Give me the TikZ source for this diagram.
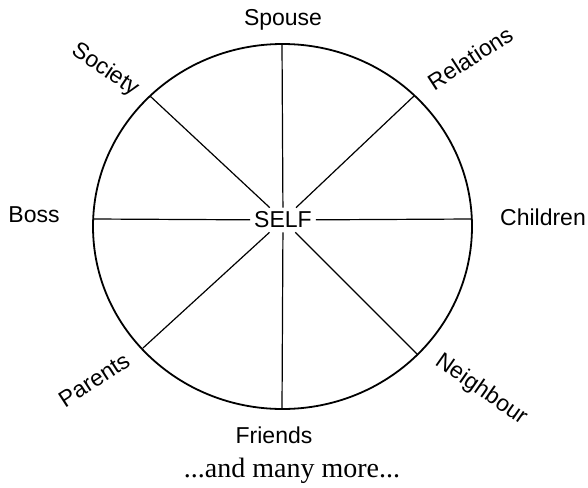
\documentclass[tikz,border=0pt]{standalone}
\usepackage{fontspec}
\setmainfont{Liberation Sans}
\newfontfamily\captionfont{Liberation Serif}
\usetikzlibrary{calc}

\begin{document}
\begin{tikzpicture}[x=1pt,y=-1pt,
    lab/.style={font=\fontsize{23}{27}\selectfont, inner sep=0pt},
    spoke/.style={line width=1.2pt}]
    \useasboundingbox (0,0) rectangle (588,487);
    % estremi dei raggi
    \coordinate (n) at (282,44);
    \coordinate (ne) at (414,96);
    \coordinate (e) at (472,219);
    \coordinate (se) at (418,355);
    \coordinate (s) at (282,409);
    \coordinate (sw) at (143,348);
    \coordinate (w) at (93,219);
    \coordinate (nw) at (150,96);
    % centro
    \node[lab, inner sep=4pt] (self) at (283,220) {SELF};
    % raggi
    \foreach \p in {n,ne,e,se,s,sw,w,nw}
        \draw[spoke] (self) -- (\p);
    % cerchio
    \draw[line width=1.8pt] (282.5,226.5) ellipse [x radius=189.5, y radius=182.5];
    % etichette
    \node[lab] (spouse) at (283,20) {Spouse};
    \node[lab, rotate=33] (relations) at (470,58) {Relations};
    \node[lab] (children) at (543,217) {Children};
    \node[lab, rotate=-35] (neighbour) at (481,390) {Neighbour};
    \node[lab] (friends) at (274,435) {Friends};
    \node[lab, rotate=33] (parents) at (94,380) {Parents};
    \node[lab] (boss) at (34,215) {Boss};
    \node[lab, rotate=-34] (society) at (105,70) {Society};
    % didascalia
    \node[font=\captionfont\fontsize{28}{32}\selectfont, inner sep=0pt] (more) at (292,471) {...and many more...};
\end{tikzpicture}
\end{document}
